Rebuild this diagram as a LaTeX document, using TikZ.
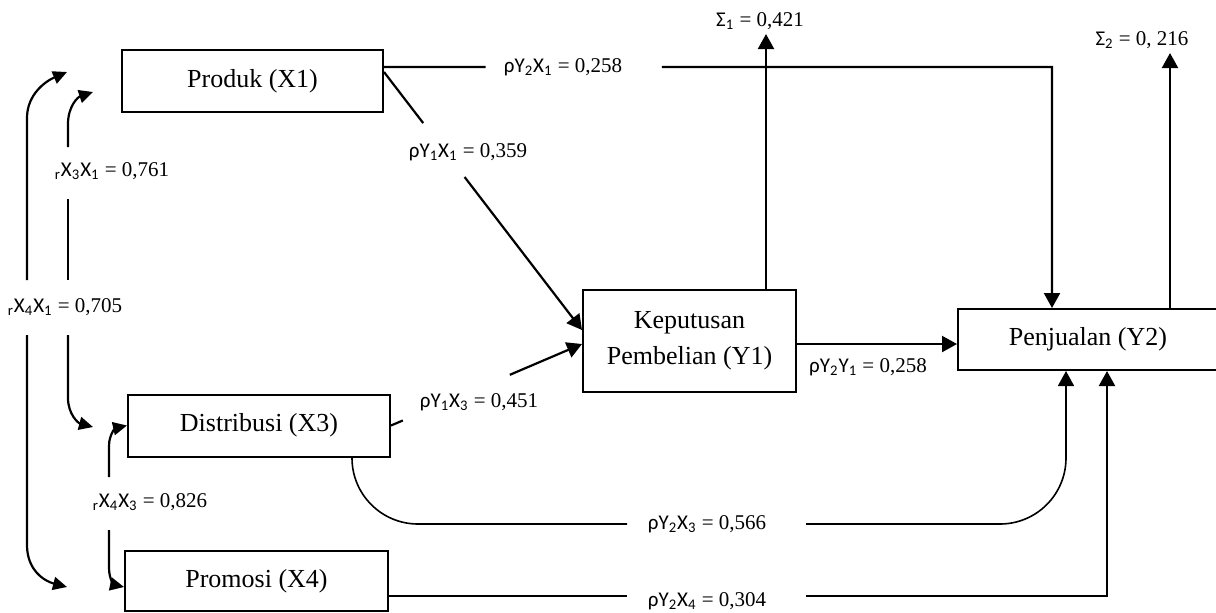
\documentclass[tikz,border=0pt]{standalone}
\usepackage{fontspec}
\setmainfont{Liberation Serif}
\newfontfamily\calfont{Carlito}
\usetikzlibrary{arrows.meta,calc}
\newcommand{\sbs}[1]{\textsubscript{#1}}

\tikzset{
  box/.style={draw, line width=1pt, fill=white, align=center, inner sep=0pt,
              font=\fontsize{13}{18}\selectfont},
  lbl/.style={font=\fontsize{10.5}{12}\selectfont, inner sep=2pt},
  ln/.style={line width=1.1pt},
  thinln/.style={line width=0.8pt},
  arr/.style={ln, -{Triangle[length=7.5pt,width=8pt]}},
  carr/.style={ln, -{Triangle[length=7pt,width=6.5pt]}}
}

\begin{document}
\begin{tikzpicture}[x=0.5pt,y=-0.5pt]
\clip (0,0) rectangle (1216,612);

% variable boxes
\node[box, minimum width=130.5pt, minimum height=31pt] (prod) at (252.5,81) {Produk (X1)};
\node[box, minimum width=131pt, minimum height=31pt] (dist) at (259,425.5) {Distribusi (X3)};
\node[box, minimum width=131.5pt, minimum height=30pt] (prom) at (256.5,581) {Promosi (X4)};
\node[box, minimum width=106.5pt, minimum height=51pt] (kep) at (689.5,341) {Keputusan\\Pembelian (Y1)};
\node[box, minimum width=130pt, minimum height=30.5pt] (penj) at (1088,339.5) {Penjualan (Y2)};

% residual labels
\node[lbl] (s1) at (760,21) {{\calfont Σ\sbs{1}} = 0,421};
\node[lbl] (s2) at (1142,40) {{\calfont Σ\sbs{2}} = 0, 216};

% Produk -> Penjualan
\coordinate (p1) at ([yshift=7pt]prod.east);
\coordinate (c1) at ([xshift=-18pt]penj.north);
\coordinate (c1top) at (c1 |- p1);
\draw[ln] (p1) -- ($(p1)!0.152!(c1top)$);
\draw[arr] ($(p1)!0.416!(c1top)$) -- (c1top) -- (c1);
\node[lbl] (lY2X1) at (563,67) {{\calfont ρY\sbs{2}X\sbs{1}} = 0,258};

% Produk -> Keputusan
\coordinate (a1) at ([yshift=4.5pt]prod.east);
\coordinate (b1) at ([yshift=5.5pt]kep.west);
\draw[ln] (a1) -- ($(a1)!0.198!(b1)$);
\draw[arr] ($(a1)!0.407!(b1)$) -- (b1);
\node[lbl] (lY1X1) at (468,152) {{\calfont ρY\sbs{1}X\sbs{1}} = 0,359};

% Distribusi -> Keputusan
\coordinate (a3) at (dist.east);
\coordinate (b3) at ([yshift=-1.5pt]kep.west);
\draw[ln] (a3) -- ($(a3)!0.062!(b3)$);
\draw[arr] ($(a3)!0.622!(b3)$) -- (b3);
\node[lbl] (lY1X3) at (479,402) {{\calfont ρY\sbs{1}X\sbs{3}} = 0,451};

% Keputusan -> Penjualan
\coordinate (k1) at ([yshift=-1.5pt]kep.east);
\draw[arr] (k1) -- (k1 -| penj.west);
\node[lbl] (lY2Y1) at (868,367) {{\calfont ρY\sbs{2}Y\sbs{1}} = 0,258};

% residual arrows
\coordinate (k2) at ([xshift=38.25pt]kep.north);
\draw[arr] (k2) -- (k2 |- s1.south);
\coordinate (k3) at ([xshift=41pt]penj.north);
\draw[arr] (k3) -- (k3 |- s2.south);

% Distribusi -> Penjualan
\coordinate (d1) at ([xshift=46.5pt]dist.south);
\coordinate (e1) at ([xshift=-11pt]penj.south);
\coordinate (gL) at (627,524);
\coordinate (gR) at (806,524);
\draw[thinln, rounded corners=33pt] (d1) |- (gL);
\draw[thinln, -{Triangle[length=7.5pt,width=8pt]}, rounded corners=33pt] (gR) -| (e1);
\node[lbl] (lY2X3) at (707,524) {{\calfont ρY\sbs{2}X\sbs{3}} = 0,566};

% Promosi -> Penjualan
\coordinate (f1) at ([yshift=-7.5pt]prom.east);
\coordinate (e2) at ([xshift=9.5pt]penj.south);
\coordinate (hL) at (627,596);
\coordinate (hR) at (806,596);
\draw[ln] (f1) -- (hL);
\draw[arr] (hR) -| (e2);
\node[lbl] (lY2X4) at (707,601) {{\calfont ρY\sbs{2}X\sbs{4}} = 0,304};

% correlation X4-X1 (outer)
\coordinate (t1) at (67,72);
\coordinate (t2) at (67,587);
\coordinate (o1) at (27,280);
\coordinate (o2) at (27,335);
\draw[carr] (o1) -- (27,118) .. controls (27,94) and (46,81) .. (t1);
\draw[carr] (o2) -- (27,545) .. controls (27,570) and (44,581) .. (t2);
\node[lbl] (rX4X1) at (65,307) {{\calfont \sbs{r}X\sbs{4}X\sbs{1}} = 0,705};

% correlation X3-X1 (inner)
\coordinate (t3) at (93,92);
\coordinate (t4) at (93,427);
\coordinate (i1) at (68,147);
\coordinate (i2) at (68,199);
\coordinate (i3) at (68,280);
\coordinate (i4) at (68,335);
\draw[carr] (i1) -- (68,124) .. controls (68,106) and (78,97) .. (t3);
\draw[ln] (i2) -- (i3);
\draw[carr] (i4) -- (68,398) .. controls (68,414) and (78,423) .. (t4);
\node[lbl] (rX3X1) at (112,171) {{\calfont \sbs{r}X\sbs{3}X\sbs{1}} = 0,761};

% correlation X4-X3
\coordinate (t5) at (dist.west);
\coordinate (t6) at ([yshift=-3pt]prom.west);
\coordinate (m1) at (109,477);
\coordinate (m2) at (109,530);
\draw[carr] (m1) -- (109,446) .. controls (109,434) and (116,428) .. (t5);
\draw[carr] (m2) -- (109,568) .. controls (109,580) and (115,585) .. (t6);
\node[lbl] (rX4X3) at (150,502) {{\calfont \sbs{r}X\sbs{4}X\sbs{3}} = 0,826};
\end{tikzpicture}
\end{document}
